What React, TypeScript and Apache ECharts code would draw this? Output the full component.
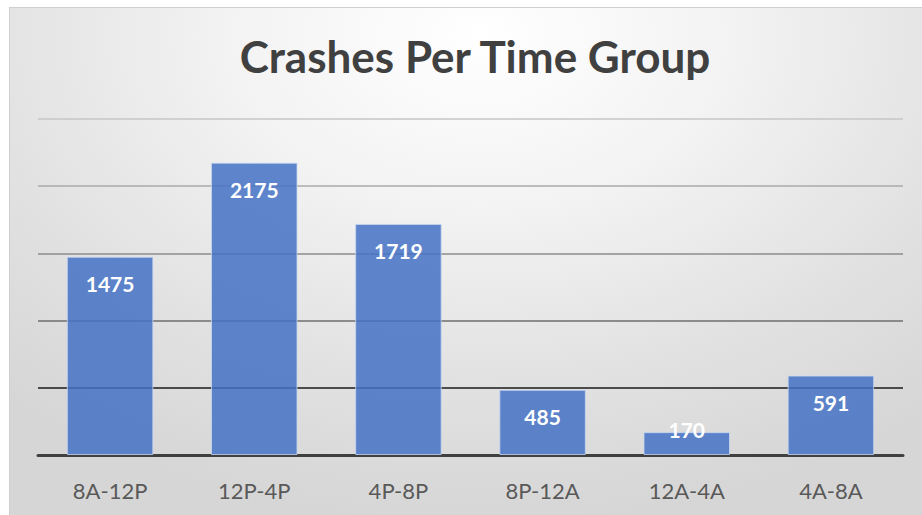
import React, { useEffect, useRef } from "react";
import * as echarts from "echarts";

const categories = ["8A-12P", "12P-4P", "4P-8P", "8P-12A", "12A-4A", "4A-8A"];
const crashes = [1475, 2175, 1719, 485, 170, 591];
const yTicks = { min: 0, max: 2500, interval: 500 };
const titleText = "Crashes Per Time Group";

export default function App() {
  const ref = useRef<HTMLDivElement>(null);
  useEffect(() => {
    if (!ref.current) return;
    const chart = echarts.init(ref.current, null, { renderer: "svg" });
    const data = crashes.map((v) =>
      v < 300
        ? { value: v, label: { position: "top", distance: 5, offset: [0, 13] } }
        : { value: v }
    );
    chart.setOption({
      animation: false,
      title: {
        text: titleText,
        left: 470,
        top: 29,
        textAlign: "center",
        textStyle: {
          fontFamily: "Lato",
          fontWeight: "bold",
          fontSize: 44,
          color: "#404040",
        },
      },
      grid: { left: 38, right: 19, top: 119, bottom: 60, containLabel: false },
      xAxis: {
        type: "category",
        data: categories,
        axisLine: { show: true, lineStyle: { color: "#404040", width: 3 } },
        axisTick: { show: false },
        axisLabel: {
          color: "#595959",
          fontFamily: "Lato",
          fontSize: 22,
          margin: 24,
        },
      },
      yAxis: {
        type: "value",
        min: yTicks.min,
        max: yTicks.max,
        interval: yTicks.interval,
        axisLabel: { show: false },
        axisLine: { show: false },
        axisTick: { show: false },
        splitLine: {
          show: true,
          lineStyle: {
            width: 1.5,
            color: ["#404040", "#1a1a1a", "#6e6e6e", "#8c8c8c", "#aaaaaa", "#c6c6c6"],
          },
        },
      },
      series: [
        {
          type: "bar",
          data,
          barCategoryGap: "40%",
          itemStyle: {
            color: "rgba(68,114,196,0.85)",
            borderColor: "rgba(200,215,240,0.8)",
            borderWidth: 1,
          },
          label: {
            show: true,
            position: "insideTop",
            distance: 16,
            color: "#ffffff",
            fontFamily: "Lato",
            fontWeight: "bold",
            fontSize: 21,
          },
        },
      ],
    });
    return () => chart.dispose();
  }, []);
  return (
    <div
      style={{
        position: "fixed",
        left: 0,
        top: 0,
        width: 922,
        height: 515,
        background: "#ffffff",
      }}
    >
      <div
        style={{
          position: "absolute",
          left: 9,
          top: 7,
          width: 940,
          height: 540,
          border: "1px solid #cfcfcf",
          background:
            "radial-gradient(ellipse 75% 90% at 50% 5%, #ffffff 0%, #f3f3f3 35%, #e2e2e2 70%, #d6d6d6 100%)",
        }}
      />
      <div
        ref={ref}
        style={{ position: "absolute", left: 0, top: 0, width: 922, height: 515 }}
      />
    </div>
  );
}
